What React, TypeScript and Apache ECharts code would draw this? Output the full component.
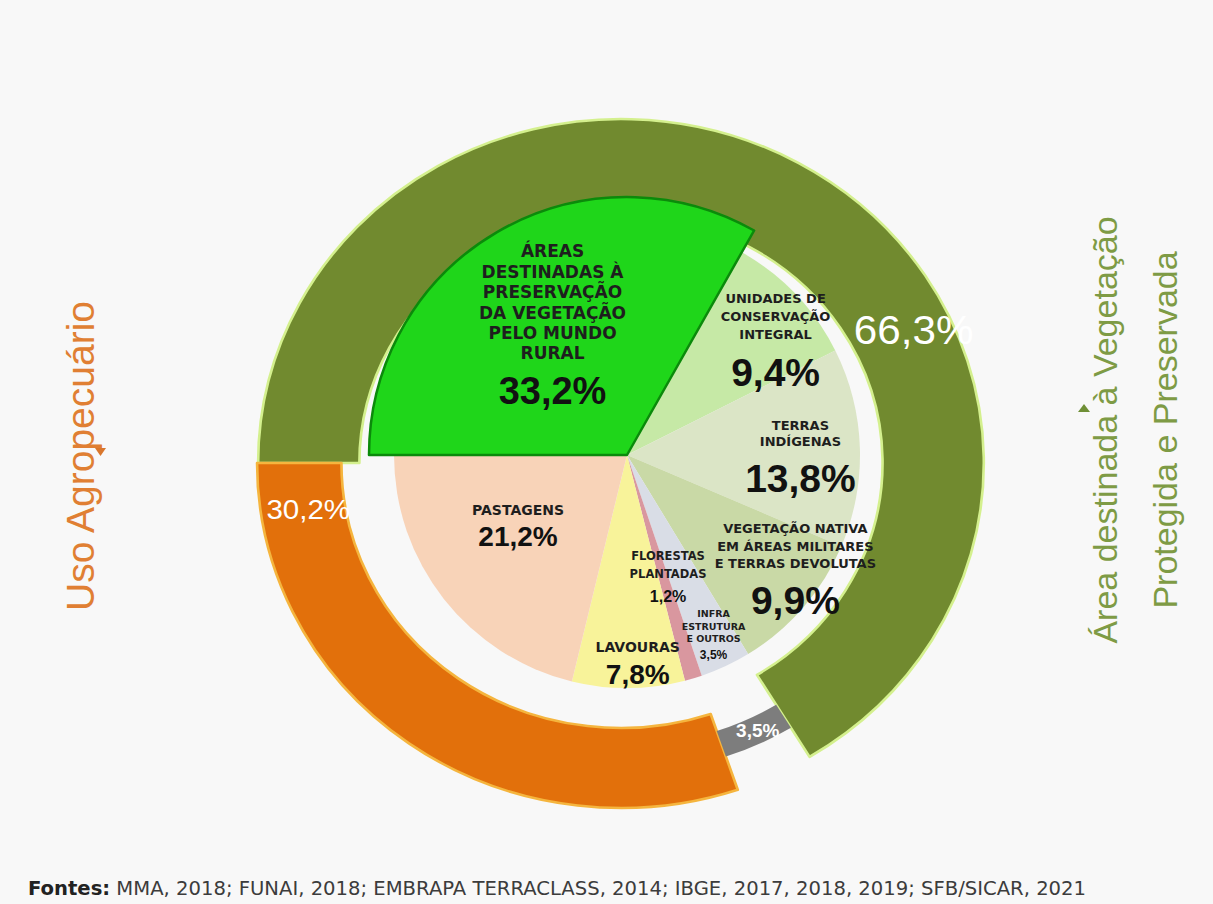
import { useEffect, useRef } from "react";
import * as echarts from "echarts";

// ---------- data ----------
const outerNames = ["Área destinada à Vegetação Protegida e Preservada", "Outros", "Uso Agropecuário"];
const outerValues = [66.3, 3.5, 30.2];
const outerValueLabels = ["66,3%", "3,5%", "30,2%"];

const innerNames = [
  "ÁREAS\nDESTINADAS À\nPRESERVAÇÃO\nDA VEGETAÇÃO\nPELO MUNDO\nRURAL",
  "UNIDADES DE\nCONSERVAÇÃO\nINTEGRAL",
  "TERRAS\nINDÍGENAS",
  "VEGETAÇÃO NATIVA\nEM ÁREAS MILITARES\nE TERRAS DEVOLUTAS",
  "INFRA\nESTRUTURA\nE OUTROS",
  "FLORESTAS\nPLANTADAS",
  "LAVOURAS",
  "PASTAGENS",
];
const innerValues = [33.2, 9.4, 13.8, 9.9, 3.5, 1.2, 7.8, 21.2];
const innerValueLabels = ["33,2%", "9,4%", "13,8%", "9,9%", "3,5%", "1,2%", "7,8%", "21,2%"];

const sideTitles = ["Uso Agropecuário", "Área destinada à Vegetação\nProtegida e Preservada"];
const sourceLabel = "Fontes:";
const sourceText = "MMA, 2018; FUNAI, 2018; EMBRAPA TERRACLASS, 2014; IBGE, 2017, 2018, 2019; SFB/SICAR, 2021";

// ---------- styles ----------
const W = 1213;
const H = 904;
const STRETCH = 1.0548; // the outer ring is slightly wider than tall
const FONT = "Arial, 'Liberation Sans', sans-serif";
const HEAVY = "'DejaVu Sans', Verdana, sans-serif";
const BG = "#f8f8f8";
const TRANSPARENT = "rgba(0,0,0,0)";

const OUTER_CENTER = [588.7, 463];
const OUTER_COLORS = ["#718a2f", "#7d7d7d", "#e2700b"];
const OUTER_BORDERS = ["#d4f08e", TRANSPARENT, "#f5b53e"];
const OUTER_BORDER_W = [2.5, 0, 2.5];
const OUTER_RADII = [[248, 344], [283, 310], [265, 345]];
const OUTER_FONT = [40, 18, 28];
const OUTER_WEIGHT = ["normal", "bold", "normal"];
const OUTER_SHIFT = [[131, 128], [3, -4], [-117, -204]];

const INNER_CENTER = [627, 455];
const INNER_RADIUS = 233;
const GREEN_RADIUS = 258;
const INNER_COLORS = ["#1fd61a", "#c6e9a6", "#dbe5c6", "#c9d9a6", "#d9dde6", "#d9979f", "#f8f39a", "#f8d3b8"];
const INNER_NAME_FONT = [17, 13, 13, 13, 9.5, 11.5, 14, 14];
const INNER_NAME_LH = [20.4, 18, 16.5, 17.5, 12.5, 18, 18, 18];
const INNER_VALUE_FONT = [38, 39, 39, 39, 12, 16, 28, 28];
const INNER_VALUE_LH = [55, 58, 57, 56, 20, 28, 36, 36];
const INNER_SHIFT = [[-8, -11], [62, -27], [54, 11], [78, 41], [36, 73], [7, 9], [10, 91], [-15, -1]];

function innerLabel(i: number) {
  return {
    show: true,
    position: "inside",
    formatter: `{n|${innerNames[i]}}\n{v|${innerValueLabels[i]}}`,
    rich: {
      n: {
        fontFamily: HEAVY,
        fontWeight: "bold",
        fontSize: INNER_NAME_FONT[i],
        lineHeight: INNER_NAME_LH[i],
        color: "#1e1e1e",
        align: "center",
      },
      v: {
        fontFamily: FONT,
        fontWeight: "bold",
        fontSize: INNER_VALUE_FONT[i],
        lineHeight: INNER_VALUE_LH[i],
        color: "#111",
        align: "center",
      },
    },
  };
}

function outerSeries(idx: number) {
  return {
    type: "pie",
    silent: true,
    center: OUTER_CENTER,
    radius: OUTER_RADII[idx],
    startAngle: 180,
    clockwise: true,
    avoidLabelOverlap: false,
    labelLine: { show: false },
    labelLayout: (p: any) =>
      p.dataIndex === idx ? { dx: OUTER_SHIFT[idx][0], dy: OUTER_SHIFT[idx][1] } : {},
    data: outerValues.map((v, i) => ({
      value: v,
      name: outerNames[i],
      itemStyle:
        i === idx
          ? { color: OUTER_COLORS[i], borderColor: OUTER_BORDERS[i], borderWidth: OUTER_BORDER_W[i] }
          : { color: TRANSPARENT, borderWidth: 0 },
      label:
        i === idx
          ? {
              show: true,
              position: "inside",
              formatter: outerValueLabels[i],
              color: "#ffffff",
              fontFamily: FONT,
              fontSize: OUTER_FONT[i],
              fontWeight: OUTER_WEIGHT[i],
            }
          : { show: false },
    })),
  };
}

export default function App() {
  const outerRef = useRef<HTMLDivElement>(null);
  const innerRef = useRef<HTMLDivElement>(null);

  useEffect(() => {
    if (!outerRef.current || !innerRef.current) return;
    const outer = echarts.init(outerRef.current, undefined, { renderer: "svg" });
    const inner = echarts.init(innerRef.current, undefined, { renderer: "svg" });

    outer.setOption({
      animation: false,
      series: [outerSeries(0), outerSeries(2), outerSeries(1)],
    } as any);

    const innerSeries = {
      type: "pie",
      silent: true,
      center: INNER_CENTER,
      radius: [0, INNER_RADIUS],
      startAngle: 180,
      clockwise: true,
      avoidLabelOverlap: false,
      labelLine: { show: false },
      labelLayout: (p: any) => ({ dx: INNER_SHIFT[p.dataIndex][0], dy: INNER_SHIFT[p.dataIndex][1] }),
      data: innerValues.map((v, i) => ({
        value: v,
        name: innerNames[i],
        itemStyle: i === 0 ? { color: TRANSPARENT } : { color: INNER_COLORS[i] },
        label: i === 0 ? { show: false } : innerLabel(i),
      })),
    };

    const greenSeries = {
      type: "pie",
      silent: true,
      center: INNER_CENTER,
      radius: [0, GREEN_RADIUS],
      startAngle: 180,
      clockwise: true,
      avoidLabelOverlap: false,
      labelLine: { show: false },
      labelLayout: (p: any) => (p.dataIndex === 0 ? { dx: INNER_SHIFT[0][0], dy: INNER_SHIFT[0][1] } : {}),
      data: innerValues.map((v, i) => ({
        value: v,
        name: innerNames[i],
        itemStyle:
          i === 0
            ? { color: INNER_COLORS[0], borderColor: "#0b8a0b", borderWidth: 2.5 }
            : { color: TRANSPARENT, borderWidth: 0 },
        label: i === 0 ? innerLabel(0) : { show: false },
      })),
    };

    inner.setOption({
      animation: false,
      series: [innerSeries, greenSeries],
      graphic: [
        {
          type: "text",
          x: 80,
          y: 456,
          rotation: Math.PI / 2,
          style: {
            text: sideTitles[0],
            fontFamily: FONT,
            fontSize: 39,
            fill: "#e07f33",
            align: "center",
            verticalAlign: "middle",
          },
        },
        {
          type: "polygon",
          shape: { points: [[95, 448], [106, 448], [100.5, 456]] },
          style: { fill: "#d9772d" },
        },
        {
          type: "text",
          x: 1135,
          y: 430,
          rotation: Math.PI / 2,
          style: {
            text: sideTitles[1],
            fontFamily: FONT,
            fontSize: 34,
            lineHeight: 60,
            fill: "#7e9b45",
            align: "center",
            verticalAlign: "middle",
          },
        },
        {
          type: "polygon",
          shape: { points: [[1078, 412], [1090, 412], [1084, 404]] },
          style: { fill: "#6f8f36" },
        },
        {
          type: "text",
          x: 28,
          y: 888,
          style: {
            text: `{b|${sourceLabel}} ${sourceText}`,
            fontFamily: "'DejaVu Sans', sans-serif",
            fontSize: 19.6,
            fill: "#3c3c3c",
            verticalAlign: "middle",
            rich: {
              b: { fontFamily: "'DejaVu Sans', sans-serif", fontSize: 19.6, fontWeight: "bold", fill: "#222" },
            },
          },
        },
      ],
    } as any);

    return () => {
      outer.dispose();
      inner.dispose();
    };
  }, []);

  return (
    <div style={{ position: "fixed", left: 0, top: 0, width: W, height: H, background: BG, overflow: "hidden" }}>
      <div
        ref={outerRef}
        style={{
          position: "absolute",
          left: 0,
          top: 0,
          width: W / STRETCH,
          height: H,
          transform: `scaleX(${STRETCH})`,
          transformOrigin: "0 0",
        }}
      />
      <div ref={innerRef} style={{ position: "absolute", left: 0, top: 0, width: W, height: H }} />
    </div>
  );
}
